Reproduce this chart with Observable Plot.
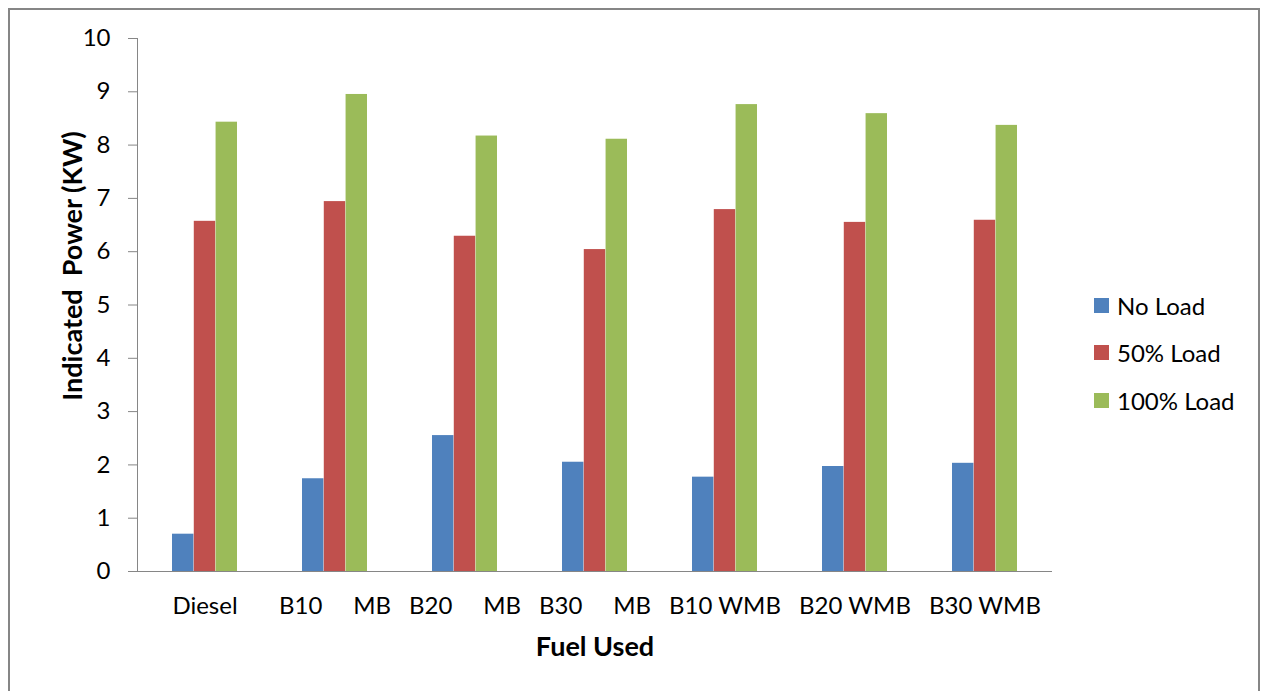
<!DOCTYPE html>
<html>
<head>
<meta charset="utf-8">
<script src="https://cdn.jsdelivr.net/npm/d3@7"></script>
<script src="https://cdn.jsdelivr.net/npm/@observablehq/plot@0.6"></script>
<style>
  html, body { margin: 0; padding: 0; background: #fff; overflow: hidden; }
  #wrap { position: relative; width: 1261px; height: 691px; font-family: Lato, "Open Sans", sans-serif; }
  #border { position: absolute; left: 8px; top: 8px; width: 1252px; height: 700px;
            border: 2px solid #868686; box-sizing: border-box; }
  #chart { position: absolute; left: 0; top: 0; }
  #legend { position: absolute; left: 1094px; top: 290px; }
  .item { position: absolute; left: 0; height: 30px; display: flex; align-items: center;
          white-space: nowrap; font-size: 24px; color: #000; }
  .swatch { width: 15px; height: 15px; margin-right: 8px; }
</style>
</head>
<body>
<div id="wrap">
  <div id="border"></div>
  <div id="chart"></div>
  <div id="legend"></div>
</div>
<script>
// Fuel blends on the x axis
const fuels = ["Diesel", "B10 MB", "B20 MB", "B30 MB", "B10 WMB", "B20 WMB", "B30 WMB"];
// Labels as printed under each group (the MB blends are spread across the group width)
const fuelLabels = [
  "Diesel",
  "B10\u00a0\u00a0\u00a0\u00a0\u00a0MB",
  "B20\u00a0\u00a0\u00a0\u00a0\u00a0MB",
  "B30\u00a0\u00a0\u00a0\u00a0\u00a0MB",
  "B10 WMB", "B20 WMB", "B30 WMB"
];

// Indicated power (kW) per load condition
const seriesNames = ["No Load", "50% Load", "100% Load"];
const seriesColors = ["#4F81BD", "#C0504D", "#9BBB59"];
const noLoad   = [0.70, 1.74, 2.55, 2.05, 1.77, 1.97, 2.03];
const halfLoad = [6.57, 6.94, 6.29, 6.04, 6.79, 6.55, 6.59];
const fullLoad = [8.43, 8.95, 8.17, 8.11, 8.76, 8.59, 8.37];
const yTicks = [0, 1, 2, 3, 4, 5, 6, 7, 8, 9, 10];

const seriesValues = [noLoad, halfLoad, fullLoad];
const rows = seriesValues.flatMap((vals, s) =>
  fuels.map((fuel, i) => ({fuel, series: seriesNames[s], s, value: vals[i]})));

const W = 1261, H = 691;
const mL = 137, mR = 209, mT = 38, mB = 120;
const padInner = 0.5, padOuter = 0.25;
// each group band holds three touching bars
const step = (W - mL - mR) / (fuels.length - padInner + 2 * padOuter);
const groupW = step * (1 - padInner);
const barW = groupW / 3;

const axisGray = "#868686";
const labelOf = new Map(fuels.map((f, i) => [f, fuelLabels[i]]));

const barMarks = seriesNames.map((name, s) =>
  Plot.barY(rows.filter(d => d.s === s), {
    x: "fuel", y: "value", fill: seriesColors[s],
    insetLeft: s * barW, insetRight: (2 - s) * barW
  }));

const chart = Plot.plot({
  width: W, height: H,
  marginLeft: mL, marginRight: mR, marginTop: mT, marginBottom: mB,
  style: {background: "transparent", fontFamily: "Lato, 'Open Sans', sans-serif", fontSize: "24px", color: "#000"},
  x: {type: "band", domain: fuels, paddingInner: padInner, paddingOuter: padOuter},
  y: {domain: [0, 10]},
  marks: [
    ...barMarks,
    Plot.axisY({ticks: yTicks, tickSize: 9, tickPadding: 18, stroke: axisGray, fill: "#000", label: null, fontSize: 24}),
    Plot.axisX({tickSize: 0, tickPadding: 25, tickFormat: d => labelOf.get(d), fill: "#000", label: null, fontSize: 24}),
    Plot.frame({anchor: "left", stroke: axisGray}),
    Plot.ruleY([0], {stroke: axisGray, strokeWidth: 1.2}),
    Plot.text(["Indicated\u00a0\u00a0Power (KW)"], {
      frameAnchor: "left", textAnchor: "middle", lineAnchor: "middle",
      rotate: -90, dx: -64, dy: -39,
      fontWeight: "bold", fontSize: 27, fill: "#000"
    }),
    Plot.text(["Fuel Used"], {
      frameAnchor: "bottom", textAnchor: "middle", lineAnchor: "middle", dy: 76,
      fontWeight: "bold", fontSize: 27, fill: "#000"
    })
  ]
});
document.getElementById("chart").appendChild(chart);

// Legend beside the plot
const legend = d3.select("#legend");
seriesNames.forEach((name, i) => {
  const item = legend.append("div").attr("class", "item").style("top", (i * 47.6) + "px");
  item.append("div").attr("class", "swatch").style("background", seriesColors[i]);
  item.append("span").text(name);
});
</script>
</body>
</html>
